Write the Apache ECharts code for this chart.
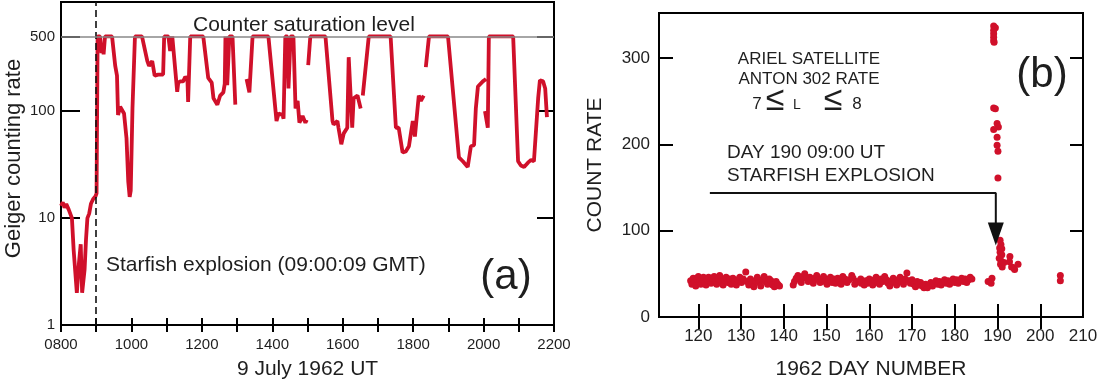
<!DOCTYPE html>
<html>
<head>
<meta charset="utf-8">
<title>Starfish</title>
<script src="https://cdn.jsdelivr.net/npm/echarts@6/dist/echarts.min.js"></script>
<style>
  html, body { margin: 0; padding: 0; background: #fff; }
  #chart { width: 1112px; height: 385px; }
</style>
</head>
<body>
<div id="chart"></div>
<script>
// (a) Geiger counter, 9 July 1962 (null = gap in record)
var hourUT = [800,805,810,815,822,826,831,836,840,845,848,851,856,860,863,867,871,875,880,885,891,898,901,
  904,911,915,918,921,925,945,954,959,962,968,973,979,986,991,995,998,1003,1010,1030,1045,1050,1059,1066,1076,1090,
  1093,1105,1110,1116,1120,1130,1133,1139,1147,1153,1159,1161,1167,1204,1218,1228,1233,1244,1252,1261,1265,1267,
  1272,1278,1287,1295,1310,
  1327,1335,1344,1389,1412,1418,1429,1432,1437,1443,1446,1452,1460,1466,1472,1477,1486,1494,1498,1500,
  1502,1508,1551,1571,1574,1585,1588,1596,1603,1613,1617,1627,1631,1642,1651,1654,
  1657,1674,1736,1751,1759,1770,1779,1788,1799,1805,1816,1822,1830,1833,
  1836,1845,1899,1930,1941,1955,1964,1973,1978,1984,1998,2007,2005,
  2004,2012,2015,2084,2098,2106,2115,2126,2135,2143,2155,2160,2169,2175,2180];
var geigerRate = [13,14,12.5,13.5,12,11.5,10,5,4.8,2,2,3.8,5.7,2,2,3.3,6.3,10,11,13.6,15,16,17,
  500,500,350,420,340,500,500,265,215,92,110,112,95,56,22,15.8,18,107,500,500,295,265,295,215,220,220,
  500,500,365,500,480,152,185,190,190,210,200,122,500,500,205,185,132,115,140,150,180,500,
  175,500,500,115,null,
  200,150,500,500,81,95,92,85,500,500,163,500,500,106,125,78,90,78,83,null,
  270,500,500,81,75,81,70,49,62,70,320,70,132,140,106,null,
  140,500,500,70,70,41,42,47,81,58,140,125,140,null,
  258,500,500,37,34,30,47,48,106,170,190,200,null,
  100,70,500,500,34,31,30,33,35,34,132,195,190,163,88];
var rateTicks = [10, 100, 500];
var rateLabels = [1, 10, 100, 500];
var hourLabels = [800, 1000, 1200, 1400, 1600, 1800, 2000, 2200];
var burstHour = 900;
var saturationLevel = 500;

// (b) Ariel satellite, Anton 302 rate
var dayNumber = [118.2,118.5,118.8,119.1,119.4,119.7,120.0,120.3,120.6,120.9,121.2,121.5,121.8,122.1,122.4,122.7,123.0,123.3,
  123.7,124.0,124.3,124.7,125.0,125.4,125.8,126.1,126.5,126.9,127.3,127.7,128.1,128.5,128.9,129.3,129.7,130.1,130.5,
  131.1,131.4,131.8,132.2,132.6,133.0,133.4,133.8,134.2,134.6,135.0,135.4,135.8,136.2,136.6,137.0,137.4,137.8,138.2,138.6,139.0,
  142.2,142.5,142.9,143.3,143.7,144.1,144.5,144.9,145.3,145.7,146.1,146.5,146.9,147.3,147.7,148.1,148.5,148.9,149.3,149.7,
  150.1,150.5,150.9,151.3,151.7,152.1,152.6,153.0,153.4,153.8,154.3,154.8,155.3,155.9,156.2,156.6,157.0,158.0,158.1,
  158.8,159.2,159.6,160.0,160.4,160.8,161.2,161.6,162.0,162.4,162.8,163.2,163.6,164.0,164.4,164.8,165.2,165.6,166.0,166.4,
  166.8,167.2,167.6,168.0,168.4,168.8,169.2,169.6,
  170.0,170.4,170.8,171.2,171.6,172.0,172.4,172.8,173.2,173.6,174.0,174.4,174.8,175.2,175.6,176.0,176.4,176.8,177.2,177.6,
  178.0,178.4,178.8,179.2,179.6,180.0,180.4,180.8,181.2,181.6,182.0,182.4,182.8,183.2,183.6,184.0,
  187.8,188.7,188.5,
  189.1,189.5,189.1,189.1,189.1,189.1,189.2,
  189.1,189.5,189.9,190.2,189.1,189.9,189.9,190.1,190.1,
  190.6,190.8,190.5,191.0,190.6,191.0,190.4,190.8,190.7,191.1,191.5,192.9,192.8,193.3,193.8,194.0,194.8,
  204.7,204.7];
var countRate = [42,38,45,40,36,44,47,41,38,44,46,40,37,43,46,41,39,45,
  47,42,38,44,48,41,37,43,46,40,44,38,45,42,37,43,46,40,44,
  52,41,37,44,39,35,42,46,40,36,43,47,41,38,44,42,37,35,41,38,36,
  37,41,45,48,44,40,47,50,45,41,46,43,39,45,48,43,40,44,47,41,
  38,43,46,40,44,39,45,42,38,47,44,40,43,48,45,38,41,44,39,
  37,42,39,44,41,37,43,46,40,38,44,41,47,43,39,36,42,45,40,37,
  43,46,41,38,44,51,42,39,
  43,38,35,41,37,40,36,34,38,34,37,40,36,39,42,38,41,37,40,43,
  39,42,38,41,44,40,43,39,42,45,41,44,40,43,46,44,
  41,45,39,
  337,335,332,328,324,320,318,
  242,241,224,220,217,208,199,192,161,
  89,84,80,79,75,72,68,65,61,58,63,70,64,58,57,55,61,
  48,42];
var dayLabels = [120, 130, 140, 150, 160, 170, 180, 190, 200, 210];
var dayTicks = [120, 130, 140, 150, 160, 170, 180, 190, 200];
var countLabels = [0, 100, 200, 300];
var countTicks = [100, 200, 300];
var arrowPath = [[122.7, 143.5], [189.6, 143.5], [189.6, 96]];
var arrowHead = [189.6, 96];

var RED = '#d0102a';
var INK = '#1e1e1e';
var FONT = '"Liberation Sans", Arial, sans-serif';

function lg(v) { return v == null ? null : Math.log10(v); }
function pad4(v) { var s = String(v); return s.length < 4 ? '0' + s : s; }

var chart = echarts.init(document.getElementById('chart'));

var lineData = hourUT.map(function (h, i) { return [h, lg(geigerRate[i])]; });
var scatterData = dayNumber.map(function (d, i) { return [d, countRate[i]]; });

function tick(len, vals) {
  var t = { show: true, inside: true, length: len, lineStyle: { color: '#000', width: 2 } };
  if (vals) t.customValues = vals;
  return t;
}

function txt(x, y, s, size, align) {
  return {
    type: 'text', x: x, y: y,
    style: { text: s, font: size + 'px ' + FONT, fill: INK, align: align || 'left', verticalAlign: 'middle' }
  };
}

var option = {
  animation: false,
  textStyle: { fontFamily: FONT },
  grid: [
    { left: 61, top: 2, width: 493, height: 328, show: true, borderColor: '#000', borderWidth: 2, backgroundColor: 'transparent' },
    { left: 659, top: 13, width: 424, height: 304, show: true, borderColor: '#000', borderWidth: 2, backgroundColor: 'transparent' }
  ],
  xAxis: [
    {
      gridIndex: 0, type: 'value', min: 800, max: 2200, interval: 100,
      axisLine: { show: false }, splitLine: { show: false }, axisTick: tick(7),
      axisLabel: { customValues: hourLabels, formatter: pad4, fontSize: 15, color: INK, margin: 12 },
      name: '9 July 1962 UT', nameLocation: 'middle', nameGap: 34,
      nameTextStyle: { fontSize: 21, color: INK }
    },
    {
      gridIndex: 0, type: 'value', position: 'top', min: 800, max: 2200, interval: 100,
      axisLine: { show: false }, splitLine: { show: false }, axisTick: tick(7),
      axisLabel: { show: false }
    },
    {
      gridIndex: 1, type: 'value', min: 110.8, max: 210,
      axisLine: { show: false }, splitLine: { show: false }, axisTick: tick(13, dayTicks),
      axisLabel: { customValues: dayLabels, fontSize: 17, color: INK, margin: 11 },
      name: '1962 DAY NUMBER', nameLocation: 'middle', nameGap: 42,
      nameTextStyle: { fontSize: 21, color: INK }
    },
    {
      gridIndex: 1, type: 'value', position: 'top', min: 110.8, max: 210,
      axisLine: { show: false }, splitLine: { show: false }, axisTick: tick(12, dayTicks),
      axisLabel: { show: false }
    }
  ],
  yAxis: [
    {
      gridIndex: 0, type: 'value', min: 0, max: lg(1050),
      axisLine: { show: false }, splitLine: { show: false }, axisTick: tick(19, rateTicks.map(lg)),
      axisLabel: {
        customValues: rateLabels.map(lg), fontSize: 15, color: INK, margin: 6,
        formatter: function (v) { return String(Math.round(Math.pow(10, v))); }
      },
      name: 'Geiger counting rate', nameLocation: 'middle', nameGap: 36,
      nameTextStyle: { fontSize: 22, color: INK, padding: [0, 0, 0, 10] }
    },
    {
      gridIndex: 0, type: 'value', position: 'right', min: 0, max: lg(1050),
      axisLine: { show: false }, splitLine: { show: false }, axisTick: tick(17, rateTicks.map(lg)),
      axisLabel: { show: false }
    },
    {
      gridIndex: 1, type: 'value', min: 0, max: 352,
      axisLine: { show: false }, splitLine: { show: false }, axisTick: tick(14, countTicks),
      axisLabel: { customValues: countLabels, fontSize: 17, color: INK, margin: 9 },
      name: 'COUNT RATE', nameLocation: 'middle', nameGap: 53,
      nameTextStyle: { fontSize: 21, color: INK }
    },
    {
      gridIndex: 1, type: 'value', position: 'right', min: 0, max: 352,
      axisLine: { show: false }, splitLine: { show: false }, axisTick: tick(13, countTicks),
      axisLabel: { show: false }
    }
  ],
  series: [
    {
      // reference lines: explosion time and counter saturation
      type: 'line', xAxisIndex: 0, yAxisIndex: 0, data: [], z: 1,
      markLine: {
        silent: true, symbol: ['none', 'none'], label: { show: false },
        data: [
          { xAxis: burstHour, lineStyle: { color: '#111', type: [7, 4], width: 1.6 } },
          { yAxis: lg(saturationLevel), lineStyle: { color: '#888', type: 'solid', width: 1.5 } }
        ]
      }
    },
    {
      type: 'line', xAxisIndex: 0, yAxisIndex: 0, z: 2,
      data: lineData, showSymbol: false, connectNulls: false,
      lineStyle: { color: RED, width: 3.8 }, itemStyle: { color: RED }
    },
    {
      type: 'scatter', xAxisIndex: 2, yAxisIndex: 2, z: 2,
      data: scatterData, symbolSize: 7, itemStyle: { color: RED, opacity: 1 }
    },
    {
      type: 'line', xAxisIndex: 2, yAxisIndex: 2, z: 3,
      data: arrowPath, showSymbol: false, silent: true,
      lineStyle: { color: '#111', width: 2 }
    },
    {
      type: 'scatter', xAxisIndex: 2, yAxisIndex: 2, z: 4, silent: true,
      data: [arrowHead], symbol: 'triangle', symbolRotate: 180, symbolSize: [16, 23],
      itemStyle: { color: '#111', opacity: 1 }
    }
  ],
  graphic: [
    txt(193, 25, 'Counter saturation level', 21),
    txt(106, 265, 'Starfish explosion (09:00:09 GMT)', 21),
    txt(506, 277, '(a)', 42, 'center'),
    txt(1042, 75, '(b)', 42, 'center'),
    txt(809, 59, 'ARIEL SATELLITE', 17, 'center'),
    txt(809, 79, 'ANTON 302 RATE', 17, 'center'),
    txt(757, 104, '7', 17, 'center'),
    txt(775, 101, '\u2264', 34, 'center'),
    txt(797, 105, 'L', 14, 'center'),
    txt(833, 101, '\u2264', 34, 'center'),
    txt(857, 104, '8', 17, 'center'),
    txt(727, 153, 'DAY 190 09:00 UT', 19),
    txt(727, 176, 'STARFISH EXPLOSION', 19)
  ]
};

chart.setOption(option);
</script>
</body>
</html>
